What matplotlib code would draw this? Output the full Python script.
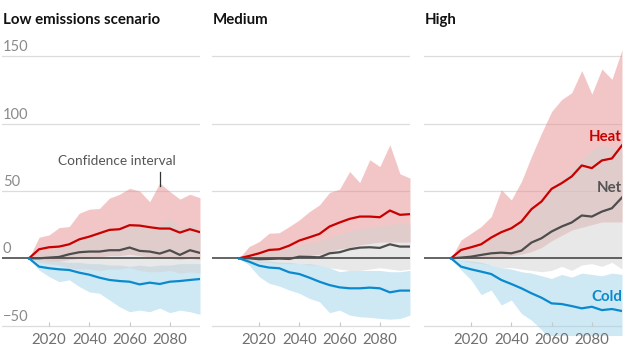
import numpy as np
import matplotlib
matplotlib.use("Agg")
import matplotlib.pyplot as plt
import matplotlib.transforms as mtransforms

plt.rcParams['font.family'] = ['Lato', 'DejaVu Sans']

# ─── DATA (excess deaths change) ─────────────────────────────────────────────
years = list(range(2010, 2096, 5))

titles = ["Low emissions scenario", "Medium", "High"]

heat = [
    [0, 6.7, 8.2, 8.7, 10.4, 14.1, 16.1, 18.6, 21.1, 21.6, 24.6, 24.3, 23.1, 22.1, 22.1, 19.1, 21.6, 19.4],
    [0, 1.7, 3.7, 6.2, 6.7, 9.4, 13.2, 15.6, 18.1, 23.6, 26.6, 29.3, 31.0, 31.0, 30.5, 35.5, 32.3, 32.8],
    [0, 6.2, 8.2, 10.4, 15.4, 19.4, 22.3, 27.3, 36.5, 42.2, 51.6, 55.8, 60.8, 69.0, 67.0, 72.7, 74.2, 83.9],
]
heat_hi = [
    [0, 15.6, 17.4, 22.8, 23.6, 33.5, 36.5, 37.0, 44.7, 47.6, 52.0, 50.0, 42.0, 56.0, 49.6, 44.0, 47.6, 45.0],
    [0, 8.7, 12.4, 18.6, 19.0, 23.6, 28.5, 34.7, 39.7, 48.9, 51.4, 64.5, 56.3, 73.2, 68.2, 84.4, 62.8, 59.6],
    [0, 13.6, 18.6, 23.6, 31.0, 51.0, 43.4, 57.0, 75.7, 93.0, 109.0, 118.0, 123.0, 139.5, 122.0, 140.7, 133.0, 155.0],
]
heat_lo = [
    [0, -1, -2, -2, -1, 0, 0, 1, 2, 2, 3, 2, 1, 0, 0, -1, 0, -1],
    [0, 0, 0, 0, 0, 1, 1, 2, 3, 5, 7, 8, 10, 11, 12, 12, 12, 12],
    [0, 0, 0, 0, 1, 1, 2, 3, 5, 8, 13, 17, 21, 23, 25, 27, 27, 27],
]

net = [
    [0, 0, 0.5, 1, 3, 4.5, 5, 5, 6, 6, 8, 5.5, 5, 3.5, 6, 2.5, 6, 4],
    [0, 0, -0.7, -0.5, -0.2, -0.5, 1.2, 1.0, 0.7, 3.7, 4.5, 6.7, 7.9, 8.2, 7.7, 10.4, 8.7, 8.7],
    [0, 0.5, 1.2, 2.5, 3.7, 4.2, 3.7, 5.7, 11.7, 14.9, 19.9, 23.6, 26.6, 31.8, 31.0, 34.7, 37.2, 45.2],
]
net_hi = [
    [0, 3, 6, 8, 10, 14, 16, 18, 20, 22, 24, 25, 22, 24, 30, 22, 25, 22],
    [0, 3, 5, 6, 7, 8, 10, 11, 13, 15, 18, 20, 22, 23, 24, 25, 26, 25],
    [0, 4, 7, 10, 14, 18, 22, 27, 34, 42, 50, 58, 66, 74, 80, 84, 82, 80],
]
net_lo = [
    [0, -3, -4, -5, -7, -8, -8, -9, -8, -8, -7, -9, -10, -10, -9, -11, -10, -11],
    [0, -2, -3, -3, -4, -4, -4, -5, -5, -7, -8, -9, -9, -8, -7, -8, -9, -8],
    [0, -1, -3, -4, -5, -7, -7, -8, -9, -10, -9, -6, -9, -5, -4, -6, -3, -8],
]

cold = [
    [0, -6.2, -7.4, -8.2, -8.7, -10.7, -12.2, -14.4, -16.1, -16.9, -17.4, -19.4, -18.1, -19.1, -17.4, -16.9, -16.1, -15.4],
    [0, -2.5, -5.5, -6.9, -7.4, -10.4, -11.7, -14.4, -17.4, -19.9, -21.6, -22.3, -22.3, -21.8, -22.3, -25.3, -24.0, -24.0],
    [0, -6.2, -8.2, -9.9, -11.7, -16.1, -19.1, -22.3, -26.0, -29.3, -33.5, -34.0, -35.5, -37.2, -36.0, -38.5, -37.7, -39.2],
]
cold_hi = [
    [0, -1, -2, -2, -3, -3, -4, -4, -5, -5, -6, -5, -6, -5, -5, -4, -4, -4],
    [0, -1, -2, -2, -3, -3, -4, -4, -5, -7, -10, -9, -9, -9, -9, -10, -10, -9],
    [0, -1, -2, -3, -5, -7, -8, -10, -11, -13, -15, -12, -14, -11, -12, -13, -11, -12],
]
cold_lo = [
    [0, -8.7, -13.6, -17.4, -16.0, -21.0, -25.0, -26.0, -31.0, -36.0, -39.7, -38.5, -39.7, -37.0, -40.4, -38.5, -39.7, -41.7],
    [0, -5.0, -13.6, -18.6, -20.6, -23.6, -26.0, -29.8, -32.3, -40.4, -38.5, -42.2, -43.4, -43.9, -44.7, -45.2, -44.7, -42.2],
    [0, -8.7, -16.0, -27.0, -23.6, -34.7, -31.0, -41.0, -46.0, -53.0, -62, -62, -62, -62, -62, -62, -62, -62],
]

y_grid = [-50, 50, 100, 150]
y_labels = [-50, 0, 50, 100, 150]
x_ticks = [2020, 2040, 2060, 2080]

# ─── STYLE ───────────────────────────────────────────────────────────────────
RED, GREY, BLUE = "#c70000", "#4d4d4d", "#0a8ace"
TXT = "#707070"

W, H = 632, 361
fig = plt.figure(figsize=(W / 100, H / 100), dpi=100)

lefts = [2, 212, 424]
ax_w = 198
ax_top, ax_bot = 47, 335

for i, left in enumerate(lefts):
    ax = fig.add_axes([left / W, 1 - ax_bot / H, ax_w / W, (ax_bot - ax_top) / H])
    ax.set_xlim(1996.6, 2095)
    ax.set_ylim(-57, 157)

    ax.fill_between(years, cold_lo[i], cold_hi[i], color="#9ed2eb", alpha=0.5, lw=0, zorder=1)
    ax.fill_between(years, heat_lo[i], heat_hi[i], color="#e78f8f", alpha=0.5, lw=0, zorder=2)
    ax.fill_between(years, net_lo[i], net_hi[i], color="#d2d2d2", alpha=0.5, lw=0, zorder=3)

    for g in y_grid:
        ax.axhline(g, color="#dcdcdc", lw=0.9, zorder=0.5)
    ax.axhline(0, color="#3a3a3a", lw=1.1, zorder=4)

    ax.plot(years, heat[i], color=RED, lw=1.6, zorder=5)
    ax.plot(years, net[i], color=GREY, lw=1.6, zorder=5)
    ax.plot(years, cold[i], color=BLUE, lw=1.6, zorder=5)

    for s in ax.spines.values():
        s.set_visible(False)
    ax.spines["bottom"].set_position(("data", -50))
    ax.set_yticks([])
    ax.set_xticks(x_ticks)
    ax.tick_params(axis="x", direction="in", length=3, width=0.8, color="#c8c8c8",
                   labelsize=10.8, labelcolor=TXT, pad=5)

    fig.text((left + 1) / W, 1 - 20 / H, titles[i], fontsize=10.8, fontweight="bold",
             color="#121212", va="center", ha="left")

    if i == 0:
        trans = mtransforms.blended_transform_factory(ax.transAxes, ax.transData)
        for v in y_labels:
            lab = str(v).replace("-", "\u2212")
            ax.text(0.005, v + 6.7, lab, transform=trans, fontsize=10.5, color="#8a8a8a",
                    ha="left", va="center")
        ax.text(2053.6, 72, "Confidence interval", fontsize=9.8, color="#555555",
                ha="center", va="center")
        ax.plot([2075, 2075], [54, 64], color="#333333", lw=0.9, zorder=6)

    if i == 2:
        trans = mtransforms.blended_transform_factory(ax.transAxes, ax.transData)
        ax.text(1.0, 90, "Heat", transform=trans, fontsize=10.8, fontweight="bold",
                color=RED, ha="right", va="center")
        ax.text(1.0, 52, "Net", transform=trans, fontsize=10.8, fontweight="bold",
                color="#555555", ha="right", va="center")
        ax.text(1.0, -29, "Cold", transform=trans, fontsize=10.8, fontweight="bold",
                color=BLUE, ha="right", va="center")

fig.savefig("out.png", dpi=100)
